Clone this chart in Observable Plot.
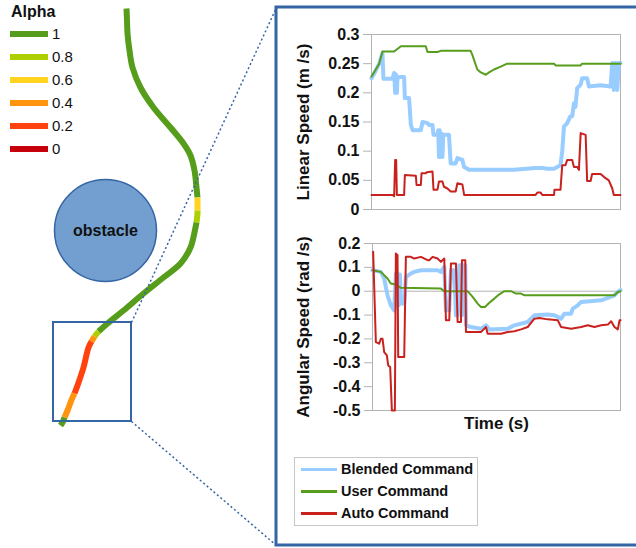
<!DOCTYPE html>
<html><head><meta charset="utf-8">
<script src="https://cdn.jsdelivr.net/npm/d3@7"></script>
<script src="https://cdn.jsdelivr.net/npm/@observablehq/plot@0.6"></script>
<style>
body{margin:0;background:#fff;font-family:"Liberation Sans",Arial,sans-serif;}
#root{position:relative;width:636px;height:548px;overflow:hidden;background:#fff;}
.abs{position:absolute;}
.abs svg{background:transparent;}
</style></head><body><div id="root"></div>
<script>
// ---------- Data ----------
const alphaLevels = [1, 0.8, 0.6, 0.4, 0.2, 0];
const alphaColors = ["#579d1c", "#aecf00", "#ffd320", "#ff950e", "#ff420e", "#c5000b"];

// robot trajectory (map units) and blending alpha per sample
const trajX = [126,126.5,127,129,132,140,153,170,183,190,194,196,197,197,197,197,196,195,190,180,163,143,123,107,98,94,91,88,83,77,74,72,67,64,62,60];
const trajY = [8,20,33,50,67,87,107,127,143,155,170,187,197,200,210,213,222,227,247,263,277,293,310,323,331,336,341,347,367,385,393,397,410,417,422,425];
const trajAlpha = [1,1,1,1,1,1,1,1,1,1,1,1,1,0.6,0.6,0.8,0.8,1,1,1,1,1,1,1,1,0.8,0.4,0.2,0.2,0.2,0.2,0.4,0.4,0.4,1,1];

const obstacleX = [105], obstacleY = [230], obstacleR = [51], obstacleLabel = ["obstacle"];
const zoomBox = [53, 322, 131, 421];     // x1, y1, x2, y2
const panelBox = [276, 7, 642, 545];

const seriesNames = ["Blended Command", "User Command", "Auto Command"];
const seriesColors = ["#99ccff", "#579d1c", "#c9211e"];
const seriesWidths = [4, 2, 2];

const linTicks = [0, 0.05, 0.1, 0.15, 0.2, 0.25, 0.3];
const angTicks = [0.2, 0.1, 0, -0.1, -0.2, -0.3, -0.4, -0.5];
const linLabel = "Linear Speed (m /s)";
const angLabel = "Angular Speed (rad /s)";
const timeLabel = "Time (s)";

// Linear speed
const linBlendT = [0,1.7,3.1,4.4,4.8,8.4,9.1,9.5,9.8,10.2,10.4,11.1,13.1,13.4,15.1,15.8,16.5,19.8,20.5,22.5,23.1,24.5,24.9,26.5,26.8,27.1,27.4,27.8,28.1,28.5,28.8,31.1,31.8,33.8,34.5,36.5,37.2,39.2,57.2,65.9,68.6,70.6,73.3,75.9,76.6,77.3,78.6,79.9,80.6,81.3,81.9,82.6,84.0,84.6,86.6,87.3,92,96,96.7,97.3,98.0,98.7,99.3,100];
const linBlendV = [0.225,0.238,0.25,0.268,0.224,0.224,0.234,0.2,0.232,0.2,0.224,0.227,0.227,0.191,0.191,0.145,0.136,0.136,0.15,0.148,0.145,0.145,0.128,0.128,0.136,0.09,0.136,0.09,0.13,0.09,0.128,0.128,0.079,0.079,0.088,0.085,0.073,0.068,0.068,0.071,0.071,0.07,0.07,0.076,0.1,0.142,0.148,0.16,0.16,0.182,0.176,0.208,0.214,0.225,0.225,0.211,0.213,0.211,0.251,0.205,0.251,0.205,0.251,0.251];
const linUserT = [0,1.7,3.1,4.4,9.1,11.8,21.8,22.5,26.5,27.8,39.8,40.5,42.5,43.9,45.9,47.2,49.2,51.9,54.5,73.3,73.9,84.0,84.6,100];
const linUserV = [0.228,0.24,0.25,0.271,0.271,0.28,0.28,0.27,0.27,0.272,0.272,0.265,0.24,0.235,0.231,0.235,0.24,0.245,0.25,0.25,0.247,0.247,0.25,0.25];
const linAutoT = [0,8.4,9.1,9.5,9.9,10.2,13.1,13.4,17.8,18.1,19.8,20.1,21.8,22.2,24.5,24.9,26.5,27.1,28.5,29.1,30.5,31.8,33.8,34.5,36.5,37.2,65.9,66.6,67.9,68.6,73.3,73.5,75.9,76.6,77.9,78.6,80.6,81.3,82.6,83.3,84.0,86.0,86.6,88.0,88.6,92.0,93.3,95.3,96.7,97.3,100];
const linAutoV = [0.025,0.025,0.023,0.085,0.085,0.025,0.025,0.059,0.058,0.042,0.042,0.062,0.062,0.064,0.065,0.034,0.034,0.048,0.048,0.039,0.036,0.031,0.031,0.045,0.043,0.025,0.025,0.029,0.029,0.025,0.025,0.034,0.034,0.076,0.076,0.085,0.085,0.073,0.073,0.068,0.131,0.128,0.049,0.049,0.061,0.061,0.056,0.05,0.036,0.025,0.025];

// Angular speed
const angBlendT = [0,3.36,4.71,6.06,7.4,8.75,9.42,9.8,10.09,10.5,11.04,11.44,12.79,13.46,15.48,16.82,19.52,26.24,27.59,28.94,29.61,30.96,31.63,32.97,33.65,34.32,34.99,35.67,36.07,36.34,37.42,37.69,39.7,43.74,45.76,47.11,54.51,57.2,62.58,65.28,70.66,73.35,76.04,77.39,80.08,80.75,82.77,84.12,92.19,94.89,97.58,98.92,100];
const angBlendV = [0.088,0.081,0.053,-0.017,-0.059,-0.08,0.074,-0.06,0.074,-0.059,0.07,-0.052,-0.052,0.06,0.074,0.081,0.088,0.088,0.081,0.102,-0.08,-0.08,0.088,0.088,-0.101,-0.101,0.109,0.109,-0.101,0.109,0.109,-0.143,-0.15,-0.157,-0.143,-0.16,-0.157,-0.143,-0.129,-0.101,-0.098,-0.101,-0.115,-0.094,-0.094,-0.073,-0.059,-0.045,-0.038,-0.028,-0.017,-0.003,0.005];
const angUserT = [0,3.36,6.06,7.4,9.42,11.44,27.59,28.94,38.36,40.38,42.4,43.74,45.36,47.11,49.13,51.14,53.16,55.85,57.87,59.89,61.24,97.58,98.92,100];
const angUserV = [0.088,0.081,0.053,0.032,0.028,0.014,0.011,0,0,-0.024,-0.052,-0.066,-0.066,-0.048,-0.031,-0.013,0,0,-0.01,-0.01,-0.017,-0.017,-0.003,0];
const angAutoT = [0.27,1.35,2.69,3.36,4.04,4.71,5.79,6.33,7.13,7.81,9.02,9.42,10.09,10.36,12.79,13.46,15.48,16.82,19.52,22.21,22.88,24.23,26.24,27.59,28.94,29.61,30.96,31.63,33.65,34.32,35.67,36.07,37.42,37.69,43.74,44.41,45.76,46.43,51.82,54.51,57.2,59.89,62.58,65.28,67.29,70.66,74.7,76.04,80.08,84.12,86.81,89.5,92.19,94.89,96.23,97.58,98.92,99.6,100];
const angAutoV = [0.165,-0.213,-0.22,-0.199,-0.199,-0.255,-0.269,-0.311,-0.318,-0.5,-0.5,0.158,0.151,-0.276,-0.276,0.144,0.144,0.137,0.144,0.13,0.13,0.144,0.137,0.123,0.137,-0.122,-0.122,0.116,0.116,-0.129,-0.129,0.13,0.13,-0.171,-0.171,-0.164,-0.15,-0.178,-0.178,-0.171,-0.168,-0.16,-0.15,-0.115,-0.112,-0.118,-0.122,-0.15,-0.157,-0.15,-0.143,-0.15,-0.143,-0.14,-0.126,-0.15,-0.16,-0.122,-0.122];

// ---------- Build tables ----------
const rows = (ts, vs, s) => ts.map((t, i) => ({t, v: vs[i], series: s}));
const linSeries = [rows(linBlendT, linBlendV, 0), rows(linUserT, linUserV, 1), rows(linAutoT, linAutoV, 2)];
const angSeries = [rows(angBlendT, angBlendV, 0), rows(angUserT, angUserV, 1), rows(angAutoT, angAutoV, 2)];

const traj = [];
let seg = 0;
for (let i = 0; i < trajX.length; i++) {
  if (i > 0 && trajAlpha[i] !== trajAlpha[i - 1]) {
    seg++;
    traj.push({x: trajX[i - 1], y: trajY[i - 1], alpha: trajAlpha[i], seg});
  }
  traj.push({x: trajX[i], y: trajY[i], alpha: trajAlpha[i], seg});
}
const obstacle = obstacleX.map((x, i) => ({x, y: obstacleY[i], r: obstacleR[i], label: obstacleLabel[i]}));
const connectors = [
  {x1: zoomBox[2], y1: zoomBox[1], x2: panelBox[0], y2: panelBox[1]},
  {x1: zoomBox[2], y1: zoomBox[3], x2: panelBox[0], y2: panelBox[3]}
];

const root = document.getElementById("root");
const FONT = "'Liberation Sans', Arial, sans-serif";

function place(node, left, top) {
  const d = document.createElement("div");
  d.className = "abs";
  d.style.left = left + "px";
  d.style.top = top + "px";
  d.appendChild(node);
  root.appendChild(d);
  return d;
}

// ---------- Background: trajectory, obstacle, zoom box, panel ----------
const bg = Plot.plot({
  width: 636, height: 548, margin: 0,
  style: {background: "transparent", fontFamily: FONT},
  x: {domain: [0, 636], range: [0, 636], axis: null},
  y: {domain: [0, 548], range: [0, 548], axis: null},
  r: {type: "identity"},
  color: {type: "ordinal", domain: alphaLevels, range: alphaColors},
  marks: [
    Plot.rect([panelBox], {x1: d => d[0], y1: d => d[1], x2: d => d[2], y2: d => d[3], fill: "none", stroke: "#3465a4", strokeWidth: 3}),
    Plot.dot(obstacle, {x: "x", y: "y", r: "r", fill: "#729fcf", stroke: "#3465a4", strokeWidth: 1.5}),
    Plot.text(obstacle, {x: "x", y: "y", text: "label", fontWeight: "bold", fontSize: 16, fill: "#111"}),
    Plot.line(traj, {x: "x", y: "y", z: "seg", stroke: "alpha", strokeWidth: 6, curve: "catmull-rom", strokeLinecap: "butt"}),
    Plot.rect([zoomBox], {x1: d => d[0], y1: d => d[1], x2: d => d[2], y2: d => d[3], fill: "none", stroke: "#3465a4", strokeWidth: 2}),
    Plot.link(connectors, {x1: "x1", y1: "y1", x2: "x2", y2: "y2", stroke: "#3465a4", strokeWidth: 1.5, strokeDasharray: "2,2.5"})
  ]
});
place(bg, 0, 0);

// ---------- Line charts ----------
function seriesMarks(list) {
  return list.map((data, i) => Plot.line(data, {x: "t", y: "v", stroke: seriesColors[i], strokeWidth: seriesWidths[i]}));
}

const topChart = Plot.plot({
  width: 345, height: 200, marginLeft: 91, marginRight: 5, marginTop: 14, marginBottom: 11,
  style: {background: "transparent", fontFamily: FONT, overflow: "visible"},
  x: {domain: [0, 100], axis: null},
  y: {domain: [0, 0.3], label: null, axis: null},
  marks: [
    Plot.frame({stroke: "#b3b3b3"}),
    Plot.axisY({ticks: linTicks, tickFormat: d => String(d), tickSize: 8, tickPadding: 4, stroke: "#b3b3b3", fill: "#111", fontSize: 16, fontWeight: "bold", label: null}),
    ...seriesMarks(linSeries),
    Plot.text([linLabel], {frameAnchor: "left", textAnchor: "middle", rotate: -90, dx: -68, fontSize: 17, fontWeight: "bold", fill: "#111"})
  ]
});
place(topChart, 280, 20);

const botChart = Plot.plot({
  width: 345, height: 215, marginLeft: 92, marginRight: 5, marginTop: 13, marginBottom: 35,
  style: {background: "transparent", fontFamily: FONT, overflow: "visible"},
  x: {domain: [0, 100], axis: null},
  y: {domain: [-0.5, 0.2], label: null, axis: null},
  marks: [
    Plot.frame({stroke: "#b3b3b3"}),
    Plot.ruleY([0], {stroke: "#b3b3b3"}),
    Plot.axisY({ticks: angTicks, tickFormat: d => String(d), tickSize: 8, tickPadding: 4, stroke: "#b3b3b3", fill: "#111", fontSize: 16, fontWeight: "bold", label: null}),
    ...seriesMarks(angSeries),
    Plot.text([angLabel], {frameAnchor: "left", textAnchor: "middle", rotate: -90, dx: -69, fontSize: 17, fontWeight: "bold", fill: "#111"}),
    Plot.text([timeLabel], {frameAnchor: "bottom", textAnchor: "middle", dy: 18, fontSize: 17, fontWeight: "bold", fill: "#111"})
  ]
});
place(botChart, 280, 230);

// ---------- Alpha legend (HTML) ----------
const alphaTitle = document.createElement("div");
alphaTitle.textContent = "Alpha";
alphaTitle.style.cssText = "position:absolute;left:11px;top:3px;font:bold 16px " + FONT + ";line-height:18px;color:#111;";
root.appendChild(alphaTitle);
alphaLevels.forEach((a, i) => {
  const cy = 34 + i * 23;
  const sw = document.createElement("div");
  sw.style.cssText = `position:absolute;left:10px;top:${cy - 3}px;width:38px;height:6px;background:${alphaColors[i]};`;
  root.appendChild(sw);
  const lb = document.createElement("div");
  lb.textContent = String(a);
  lb.style.cssText = `position:absolute;left:52px;top:${cy - 9}px;font:15px ${FONT};line-height:18px;color:#111;`;
  root.appendChild(lb);
});

// ---------- Series legend (HTML) ----------
const leg = document.createElement("div");
leg.style.cssText = "position:absolute;left:294px;top:457px;width:184px;height:69px;border:1.5px solid #c8c8c8;box-sizing:border-box;background:#fff;";
seriesNames.forEach((n, i) => {
  const cy = 11 + i * 22;
  const sw = document.createElement("div");
  sw.style.cssText = `position:absolute;left:6px;top:${cy - 1.5}px;width:36px;height:3px;background:${seriesColors[i]};`;
  leg.appendChild(sw);
  const lb = document.createElement("div");
  lb.textContent = n;
  lb.style.cssText = `position:absolute;left:46px;top:${cy - 9}px;font:bold 14.5px ${FONT};line-height:18px;color:#111;white-space:nowrap;`;
  leg.appendChild(lb);
});
root.appendChild(leg);
</script></body></html>
